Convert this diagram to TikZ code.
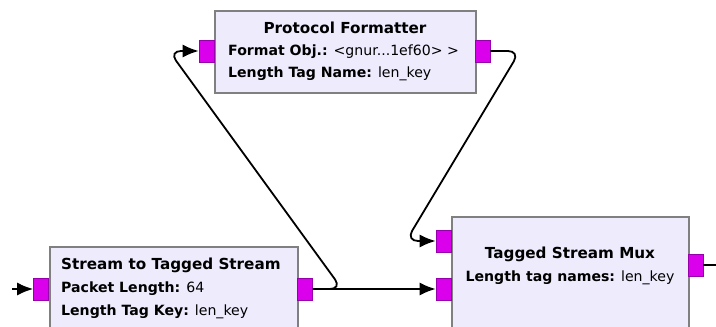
\documentclass[tikz,border=0pt]{standalone}
\usepackage{fontspec}
\setmainfont{DejaVu Sans}
\usetikzlibrary{arrows.meta}
\definecolor{blockfill}{RGB}{238,235,253}
\definecolor{blockedge}{RGB}{128,128,128}
\definecolor{portfill}{RGB}{218,0,236}
\definecolor{portedge}{RGB}{150,0,170}
\tikzset{
  block/.style={draw=blockedge, fill=blockfill, line width=1.8pt, rectangle, inner sep=0pt, anchor=north west},
  port/.style={draw=portedge, fill=portfill, line width=0.6pt, rectangle, inner sep=0pt, minimum width=15pt, minimum height=22pt},
  label/.style={inner sep=0pt, font=\fontsize{14.1}{17}\selectfont},
  title/.style={label, font=\fontsize{15.2}{18}\selectfont\bfseries},
  link/.style={line width=1.8pt, rounded corners=12pt, -{Latex[length=16pt,width=13pt]}},
}
\begin{document}
\begin{tikzpicture}[x=1pt,y=-1pt]
\useasboundingbox (0,0) rectangle (716,327);
\clip (0,0) rectangle (716,327);
% blocks
\node[block, minimum width=261pt, minimum height=82pt] (pf) at (214,10) {};
\node[block, minimum width=248pt, minimum height=100pt] (st) at (49,246) {};
\node[block, minimum width=237pt, minimum height=130pt] (mux) at (451,216) {};
% ports
\node[port] (pfin) at (206.5,51) {};
\node[port] (pfout) at (482.5,51) {};
\node[port] (stin) at (41,289) {};
\node[port] (stout) at (305,289) {};
\node[port] (muxin0) at (443.5,241) {};
\node[port] (muxin1) at (443.5,289) {};
\node[port] (muxout) at (695.5,265) {};
% texts
\node[title] (pft) at (345,28) {Protocol Formatter};
\node[label, anchor=west] (pf1) at (228,52) {\textbf{Format Obj.:} <gnur...1ef60> >};
\node[label, anchor=west] (pf2) at (228,74) {\textbf{Length Tag Name:} len\_key};
\node[title, anchor=west] (stt) at (61,265) {Stream to Tagged Stream};
\node[label, anchor=west] (st1) at (61,289) {\textbf{Packet Length:} 64};
\node[label, anchor=west] (st2) at (61,312) {\textbf{Length Tag Key:} len\_key};
\node[title] (muxt) at (570,254) {Tagged Stream Mux};
\node[label] (mux1) at (570,277.5) {\textbf{Length tag names:} len\_key};
% connections
\coordinate (src) at (12,289);
\coordinate (sink) at (716,265);
\coordinate (bendA) at (342,289);
\coordinate (bendB) at (169,51);
\coordinate (bendC) at (520,51);
\coordinate (bendD) at (406,241);
\draw[link] (src) -- (stin.west);
\draw[line width=1.8pt] (muxout.east) -- (sink);
\draw[link] (stout.east) -- (muxin1.west);
\draw[link] (stout.east) -- (bendA) -- (bendB) -- (pfin.west);
\draw[link] (pfout.east) -- (bendC) -- (bendD) -- (muxin0.west);
\end{tikzpicture}
\end{document}
